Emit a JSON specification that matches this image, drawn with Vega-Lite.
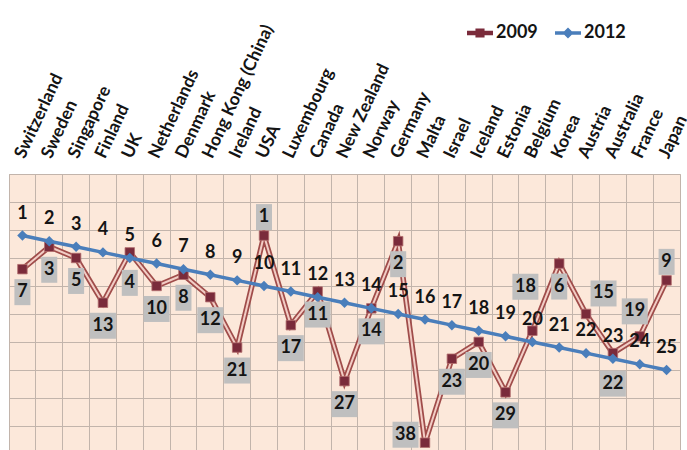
{
  "$schema": "https://vega.github.io/schema/vega-lite/v6.json",
  "width": 671,
  "height": 276,
  "autosize": {"type": "none"},
  "padding": {"left": 9, "top": 174, "right": 7, "bottom": 0},
  "background": "white",
  "config": {
    "view": {"fill": "#fce8da", "stroke": "#c2b4ab", "strokeWidth": 1},
    "text": {"font": "Lato"},
    "legend": {
      "orient": "none",
      "legendX": 458,
      "legendY": -154,
      "direction": "horizontal",
      "symbolSize": 676,
      "symbolStrokeWidth": 0,
      "symbolOpacity": 1,
      "labelFont": "Lato",
      "labelFontWeight": "bold",
      "labelFontSize": 18,
      "labelColor": "#141414",
      "labelOffset": 3,
      "columnPadding": 17,
      "title": null
    }
  },
  "data": {
    "values": [
      {"country": "Switzerland", "year": "2009", "rank": 7},
      {"country": "Sweden", "year": "2009", "rank": 3},
      {"country": "Singapore", "year": "2009", "rank": 5},
      {"country": "Finland", "year": "2009", "rank": 13},
      {"country": "UK", "year": "2009", "rank": 4},
      {"country": "Netherlands", "year": "2009", "rank": 10},
      {"country": "Denmark", "year": "2009", "rank": 8},
      {"country": "Hong Kong (China)", "year": "2009", "rank": 12},
      {"country": "Ireland", "year": "2009", "rank": 21},
      {"country": "USA", "year": "2009", "rank": 1},
      {"country": "Luxembourg", "year": "2009", "rank": 17},
      {"country": "Canada", "year": "2009", "rank": 11},
      {"country": "New Zealand", "year": "2009", "rank": 27},
      {"country": "Norway", "year": "2009", "rank": 14},
      {"country": "Germany", "year": "2009", "rank": 2},
      {"country": "Malta", "year": "2009", "rank": 38},
      {"country": "Israel", "year": "2009", "rank": 23},
      {"country": "Iceland", "year": "2009", "rank": 20},
      {"country": "Estonia", "year": "2009", "rank": 29},
      {"country": "Belgium", "year": "2009", "rank": 18},
      {"country": "Korea", "year": "2009", "rank": 6},
      {"country": "Austria", "year": "2009", "rank": 15},
      {"country": "Australia", "year": "2009", "rank": 22},
      {"country": "France", "year": "2009", "rank": 19},
      {"country": "Japan", "year": "2009", "rank": 9},
      {"country": "Switzerland", "year": "2012", "rank": 1},
      {"country": "Sweden", "year": "2012", "rank": 2},
      {"country": "Singapore", "year": "2012", "rank": 3},
      {"country": "Finland", "year": "2012", "rank": 4},
      {"country": "UK", "year": "2012", "rank": 5},
      {"country": "Netherlands", "year": "2012", "rank": 6},
      {"country": "Denmark", "year": "2012", "rank": 7},
      {"country": "Hong Kong (China)", "year": "2012", "rank": 8},
      {"country": "Ireland", "year": "2012", "rank": 9},
      {"country": "USA", "year": "2012", "rank": 10},
      {"country": "Luxembourg", "year": "2012", "rank": 11},
      {"country": "Canada", "year": "2012", "rank": 12},
      {"country": "New Zealand", "year": "2012", "rank": 13},
      {"country": "Norway", "year": "2012", "rank": 14},
      {"country": "Germany", "year": "2012", "rank": 15},
      {"country": "Malta", "year": "2012", "rank": 16},
      {"country": "Israel", "year": "2012", "rank": 17},
      {"country": "Iceland", "year": "2012", "rank": 18},
      {"country": "Estonia", "year": "2012", "rank": 19},
      {"country": "Belgium", "year": "2012", "rank": 20},
      {"country": "Korea", "year": "2012", "rank": 21},
      {"country": "Austria", "year": "2012", "rank": 22},
      {"country": "Australia", "year": "2012", "rank": 23},
      {"country": "France", "year": "2012", "rank": 24},
      {"country": "Japan", "year": "2012", "rank": 25}
    ]
  },
  "encoding": {
    "x": {
      "field": "country",
      "type": "nominal",
      "scale": {
        "type": "band",
        "paddingInner": 0,
        "paddingOuter": 0,
        "domain": ["Switzerland", "Sweden", "Singapore", "Finland", "UK", "Netherlands", "Denmark", "Hong Kong (China)", "Ireland", "USA", "Luxembourg", "Canada", "New Zealand", "Norway", "Germany", "Malta", "Israel", "Iceland", "Estonia", "Belgium", "Korea", "Austria", "Australia", "France", "Japan"]
      },
      "axis": null
    },
    "y": {
      "field": "rank",
      "type": "quantitative",
      "scale": {"domain": [-10, 39.3], "reverse": true, "nice": false, "zero": false},
      "axis": {
        "values": [-10, -5, 0, 5, 10, 15, 20, 25, 30, 35],
        "grid": true,
        "gridColor": "#c2b4ab",
        "gridWidth": 1,
        "gridOpacity": 1,
        "labels": false,
        "ticks": false,
        "domain": false,
        "title": null
      }
    }
  },
  "resolve": {"axis": {"x": "independent"}},
  "layer": [
    {
      "transform": [{"filter": "datum.year == '2009'"}],
      "mark": {"type": "line", "stroke": "#a04c4a", "strokeWidth": 5.5},
      "encoding": {
        "x": {
          "field": "country",
          "type": "nominal",
          "axis": {
            "orient": "bottom",
            "grid": true,
            "bandPosition": 0,
            "gridColor": "#c2b4ab",
            "gridWidth": 1,
            "gridOpacity": 1,
            "labels": false,
            "ticks": false,
            "domain": false,
            "title": null
          }
        }
      }
    },
    {
      "transform": [{"filter": "datum.year == '2009'"}],
      "mark": {"type": "line", "stroke": "#f2cdc5", "strokeWidth": 2}
    },
    {
      "transform": [{"filter": "datum.year == '2009'"}],
      "mark": {"type": "point", "shape": "square", "size": 90, "filled": true, "fill": "#7a2b3b", "stroke": "#b36d6d", "strokeWidth": 0.8, "opacity": 1}
    },
    {
      "transform": [{"filter": "datum.year == '2012'"}],
      "mark": {"type": "line", "stroke": "#4a7ebb", "strokeWidth": 3.5},
      "encoding": {
        "x": {
          "field": "country",
          "type": "nominal",
          "axis": {
            "orient": "top",
            "labelAngle": -65,
            "labelAlign": "left",
            "labelBaseline": "alphabetic",
            "labelFont": "Lato",
            "labelFontWeight": "bold",
            "labelFontSize": 17.5,
            "labelColor": "#141414",
            "labelPadding": 15,
            "labelOffset": 2,
            "labelLimit": 400,
            "labelOverlap": false,
            "ticks": false,
            "tickSize": 0,
            "domain": false,
            "grid": false,
            "title": null
          }
        }
      }
    },
    {
      "transform": [{"filter": "datum.year == '2012'"}],
      "mark": {"type": "point", "shape": "diamond", "size": 110, "filled": true, "fill": "#4a7ebb", "opacity": 1}
    },
    {
      "transform": [{"filter": "datum.year == '2012'"}],
      "mark": {"type": "text", "font": "Lato", "fontWeight": "bold", "fontSize": 18, "color": "#141414", "align": "center", "baseline": "middle", "yOffset": -22},
      "encoding": {"text": {"field": "rank", "type": "quantitative"}}
    },
    {
      "transform": [{"filter": "datum.year == '2009' && indexof(['UK', 'Australia', 'USA', 'Japan', 'France', 'Malta', 'Belgium', 'Austria'], datum.country) < 0"}],
      "layer": [
        {
          "mark": {"type": "point", "filled": true, "size": 3136, "color": "#bfbfbf", "opacity": 1, "strokeWidth": 0, "yOffset": 23},
          "encoding": {"shape": {"condition": {"test": "datum.rank < 10", "value": "M-0.286,-0.464L0.286,-0.464L0.286,0.464L-0.286,0.464Z"}, "value": "M-0.464,-0.464L0.464,-0.464L0.464,0.464L-0.464,0.464Z"}}
        },
        {
          "mark": {"type": "text", "font": "Lato", "fontWeight": "bold", "fontSize": 18, "color": "#141414", "align": "center", "baseline": "middle", "yOffset": 23},
          "encoding": {"text": {"field": "rank", "type": "quantitative"}}
        }
      ]
    },
    {
      "transform": [{"filter": "datum.year == '2009' && indexof(['UK', 'Australia'], datum.country) >= 0"}],
      "layer": [
        {
          "mark": {"type": "point", "filled": true, "size": 3136, "color": "#bfbfbf", "opacity": 1, "strokeWidth": 0, "yOffset": 30.5},
          "encoding": {"shape": {"condition": {"test": "datum.rank < 10", "value": "M-0.286,-0.464L0.286,-0.464L0.286,0.464L-0.286,0.464Z"}, "value": "M-0.464,-0.464L0.464,-0.464L0.464,0.464L-0.464,0.464Z"}}
        },
        {
          "mark": {"type": "text", "font": "Lato", "fontWeight": "bold", "fontSize": 18, "color": "#141414", "align": "center", "baseline": "middle", "yOffset": 30.5},
          "encoding": {"text": {"field": "rank", "type": "quantitative"}}
        }
      ]
    },
    {
      "transform": [{"filter": "datum.year == '2009' && indexof(['USA', 'Japan'], datum.country) >= 0"}],
      "layer": [
        {
          "mark": {"type": "point", "filled": true, "size": 3136, "color": "#bfbfbf", "opacity": 1, "strokeWidth": 0, "yOffset": -18.5},
          "encoding": {"shape": {"value": "M-0.286,-0.464L0.286,-0.464L0.286,0.464L-0.286,0.464Z"}}
        },
        {
          "mark": {"type": "text", "font": "Lato", "fontWeight": "bold", "fontSize": 18, "color": "#141414", "align": "center", "baseline": "middle", "yOffset": -18.5},
          "encoding": {"text": {"field": "rank", "type": "quantitative"}}
        }
      ]
    },
    {
      "transform": [{"filter": "datum.year == '2009' && datum.country == 'France'"}],
      "layer": [
        {
          "mark": {"type": "point", "filled": true, "size": 3136, "color": "#bfbfbf", "opacity": 1, "strokeWidth": 0, "xOffset": -5, "yOffset": -25},
          "encoding": {"shape": {"value": "M-0.464,-0.464L0.464,-0.464L0.464,0.464L-0.464,0.464Z"}}
        },
        {
          "mark": {"type": "text", "font": "Lato", "fontWeight": "bold", "fontSize": 18, "color": "#141414", "align": "center", "baseline": "middle", "xOffset": -5, "yOffset": -25},
          "encoding": {"text": {"field": "rank", "type": "quantitative"}}
        }
      ]
    },
    {
      "transform": [{"filter": "datum.year == '2009' && datum.country == 'Malta'"}],
      "layer": [
        {
          "mark": {"type": "point", "filled": true, "size": 3136, "color": "#bfbfbf", "opacity": 1, "strokeWidth": 0, "xOffset": -19.5, "yOffset": -8},
          "encoding": {"shape": {"value": "M-0.464,-0.464L0.464,-0.464L0.464,0.464L-0.464,0.464Z"}}
        },
        {
          "mark": {"type": "text", "font": "Lato", "fontWeight": "bold", "fontSize": 18, "color": "#141414", "align": "center", "baseline": "middle", "xOffset": -19.5, "yOffset": -8},
          "encoding": {"text": {"field": "rank", "type": "quantitative"}}
        }
      ]
    },
    {
      "transform": [{"filter": "datum.year == '2009' && datum.country == 'Belgium'"}],
      "layer": [
        {
          "mark": {"type": "point", "filled": true, "size": 3136, "color": "#bfbfbf", "opacity": 1, "strokeWidth": 0, "xOffset": -7, "yOffset": -44},
          "encoding": {"shape": {"value": "M-0.464,-0.464L0.464,-0.464L0.464,0.464L-0.464,0.464Z"}}
        },
        {
          "mark": {"type": "text", "font": "Lato", "fontWeight": "bold", "fontSize": 18, "color": "#141414", "align": "center", "baseline": "middle", "xOffset": -7, "yOffset": -44},
          "encoding": {"text": {"field": "rank", "type": "quantitative"}}
        }
      ]
    },
    {
      "transform": [{"filter": "datum.year == '2009' && datum.country == 'Austria'"}],
      "layer": [
        {
          "mark": {"type": "point", "filled": true, "size": 3136, "color": "#bfbfbf", "opacity": 1, "strokeWidth": 0, "xOffset": 17.5, "yOffset": -20.5},
          "encoding": {"shape": {"value": "M-0.464,-0.464L0.464,-0.464L0.464,0.464L-0.464,0.464Z"}}
        },
        {
          "mark": {"type": "text", "font": "Lato", "fontWeight": "bold", "fontSize": 18, "color": "#141414", "align": "center", "baseline": "middle", "xOffset": 17.5, "yOffset": -20.5},
          "encoding": {"text": {"field": "rank", "type": "quantitative"}}
        }
      ]
    },
    {
      "transform": [{"filter": "false"}],
      "mark": {"type": "point", "filled": true, "opacity": 1},
      "encoding": {
        "color": {
          "field": "year",
          "type": "nominal",
          "scale": {"domain": ["2009", "2012"], "range": ["#7a2b3b", "#4a7ebb"]}
        },
        "shape": {
          "field": "year",
          "type": "nominal",
          "scale": {
            "domain": ["2009", "2012"],
            "range": [
              "M-1,-0.17L-0.35,-0.17L-0.35,-0.35L0.35,-0.35L0.35,-0.17L1,-0.17L1,0.17L0.35,0.17L0.35,0.35L-0.35,0.35L-0.35,0.17L-1,0.17Z",
              "M-1,-0.13L-0.29,-0.13L0,-0.42L0.29,-0.13L1,-0.13L1,0.13L0.29,0.13L0,0.42L-0.29,0.13L-1,0.13Z"
            ]
          }
        }
      }
    }
  ]
}
